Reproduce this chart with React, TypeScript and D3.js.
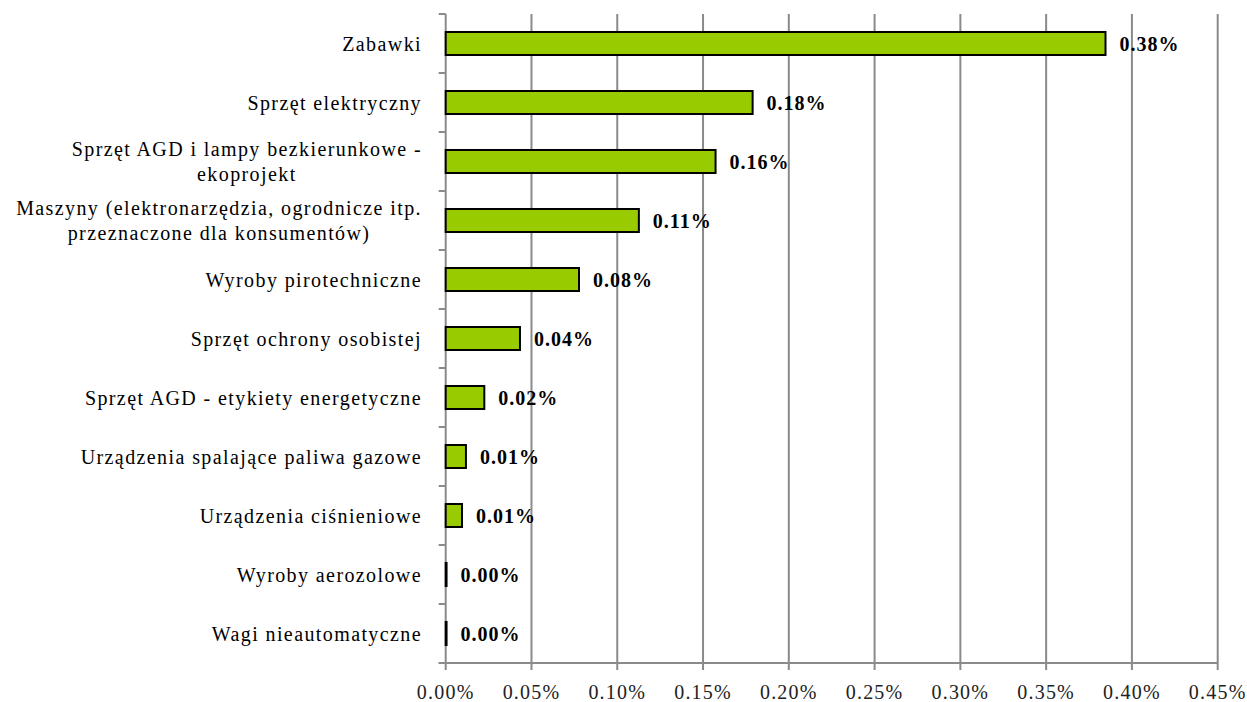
import React, { useEffect, useRef } from "react";
import * as d3 from "d3";

const categories: string[] = [
  "Zabawki",
  "Sprzęt elektryczny",
  "Sprzęt AGD i lampy bezkierunkowe -\nekoprojekt",
  "Maszyny (elektronarzędzia, ogrodnicze itp.\nprzeznaczone dla konsumentów)",
  "Wyroby pirotechniczne",
  "Sprzęt ochrony osobistej",
  "Sprzęt AGD - etykiety energetyczne",
  "Urządzenia spalające paliwa gazowe",
  "Urządzenia ciśnieniowe",
  "Wyroby aerozolowe",
  "Wagi nieautomatyczne",
];

// values in percent
const values: number[] = [0.3846, 0.1789, 0.1573, 0.1126, 0.0777, 0.0433, 0.0225, 0.0118, 0.0095, 0.0005, 0.0005];

const xTicks: number[] = [0, 0.05, 0.1, 0.15, 0.2, 0.25, 0.3, 0.35, 0.4, 0.45];

const W = 1247;
const H = 702;
const FONT = "'Liberation Serif', 'Times New Roman', serif";

export default function App() {
  const ref = useRef<SVGSVGElement | null>(null);

  useEffect(() => {
    const svg = d3.select(ref.current);
    svg.selectAll("*").remove();

    const left = 445.7;
    const right = 1217.7;
    const top = 14;
    const bottom = 663;

    const x = d3.scaleLinear().domain([0, 0.45]).range([left, right]);
    const y = d3
      .scaleBand<string>()
      .domain(categories)
      .range([top, bottom])
      .paddingInner(0.61)
      .paddingOuter(0.305);
    const step = y.step();

    const gridColor = "#8a8a8a";

    // gridlines
    svg
      .append("g")
      .selectAll("line")
      .data(xTicks.filter((t) => t > 0))
      .join("line")
      .attr("x1", (d) => x(d))
      .attr("x2", (d) => x(d))
      .attr("y1", top)
      .attr("y2", bottom + 7)
      .attr("stroke", gridColor)
      .attr("stroke-width", 2);

    // x axis line
    svg
      .append("line")
      .attr("x1", left - 7)
      .attr("x2", right)
      .attr("y1", bottom)
      .attr("y2", bottom)
      .attr("stroke", gridColor)
      .attr("stroke-width", 2);

    // y axis line
    svg
      .append("line")
      .attr("x1", left)
      .attr("x2", left)
      .attr("y1", top)
      .attr("y2", bottom + 7)
      .attr("stroke", gridColor)
      .attr("stroke-width", 2);

    // y ticks at category boundaries
    const bounds = d3.range(categories.length + 1).map((i) => top + i * step);
    svg
      .append("g")
      .selectAll("line")
      .data(bounds)
      .join("line")
      .attr("x1", left - 7)
      .attr("x2", left)
      .attr("y1", (d) => d)
      .attr("y2", (d) => d)
      .attr("stroke", gridColor)
      .attr("stroke-width", 2);

    // x tick labels
    svg
      .append("g")
      .selectAll("text")
      .data(xTicks)
      .join("text")
      .attr("x", (d) => x(d))
      .attr("y", 699)
      .attr("text-anchor", "middle")
      .attr("font-family", FONT)
      .attr("font-size", 20)
      .attr("letter-spacing", 1.2)
      .attr("fill", "#222")
      .text((d) => d.toFixed(2) + "%");

    // bars
    svg
      .append("g")
      .selectAll("rect")
      .data(values)
      .join("rect")
      .attr("x", left)
      .attr("y", (_, i) => y(categories[i])!)
      .attr("width", (d) => Math.max(x(d) - left, 0.5))
      .attr("height", y.bandwidth())
      .attr("fill", "#99CC00")
      .attr("stroke", "#000")
      .attr("stroke-width", 2);

    // value labels
    svg
      .append("g")
      .selectAll("text")
      .data(values)
      .join("text")
      .attr("x", (d) => x(d) + 14)
      .attr("y", (_, i) => y(categories[i])! + y.bandwidth() / 2)
      .attr("dy", "0.35em")
      .attr("font-family", FONT)
      .attr("font-size", 20)
      .attr("letter-spacing", 1)
      .attr("font-weight", "bold")
      .attr("fill", "#000")
      .text((d) => d.toFixed(2) + "%");

    // category labels
    const labelRight = 422;
    const lineH = 25;
    const catG = svg.append("g");
    categories.forEach((c, i) => {
      const lines = c.split("\n");
      const cy = y(c)! + y.bandwidth() / 2;
      const texts = lines.map((ln, j) =>
        catG
          .append("text")
          .attr("y", cy + (j - (lines.length - 1) / 2) * lineH)
          .attr("dy", "0.35em")
          .attr("font-family", FONT)
          .attr("font-size", 20)
          .attr("letter-spacing", 1.4)
          .attr("fill", "#000")
          .text(ln)
      );
      const widths = texts.map((t) => (t.node() as SVGTextElement).getComputedTextLength());
      const maxW = Math.max(...widths);
      const cx = labelRight - maxW / 2;
      texts.forEach((t) => t.attr("x", cx).attr("text-anchor", "middle"));
    });
  }, []);

  return (
    <div style={{ position: "absolute", left: 0, top: 0 }}>
      <svg ref={ref} width={W} height={H} style={{ display: "block", background: "#fff" }} />
    </div>
  );
}
